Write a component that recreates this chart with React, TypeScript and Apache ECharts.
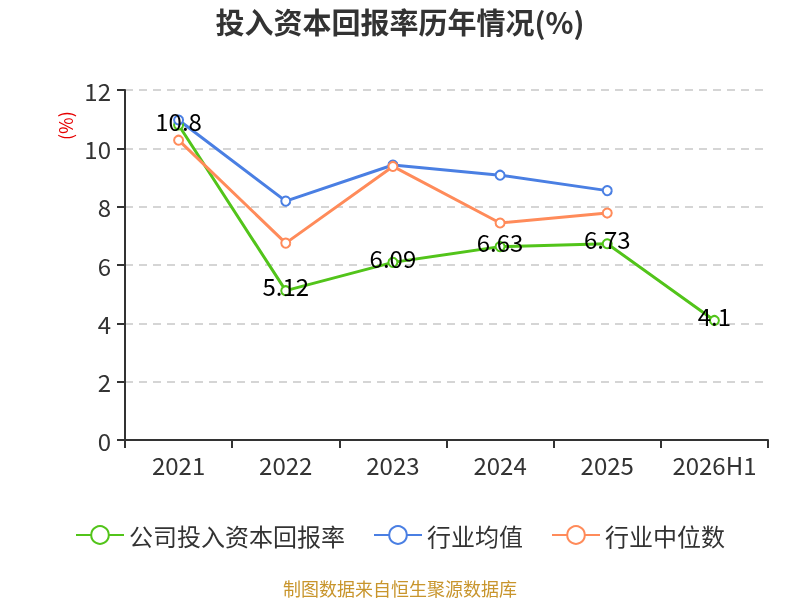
import React, { useEffect, useRef } from "react";
import * as echarts from "echarts";

const categories = ["2021", "2022", "2023", "2024", "2025", "2026H1"];
const companyValues = [10.8, 5.12, 6.09, 6.63, 6.73, 4.1];
const industryAvg = [10.97, 8.19, 9.43, 9.08, 8.55, null];
const industryMedian = [10.28, 6.75, 9.38, 7.44, 7.78, null];
const seriesNames = ["公司投入资本回报率", "行业均值", "行业中位数"];

export default function App() {
  const ref = useRef<HTMLDivElement>(null);
  useEffect(() => {
    if (!ref.current) return;
    const chart = echarts.init(ref.current, null, { renderer: "svg" });
    const font = "'Noto Sans CJK SC', 'Noto Sans', sans-serif";
    chart.setOption({
      animation: false,
      textStyle: { fontFamily: font },
      title: {
        text: "投入资本回报率历年情况(%)",
        left: "center",
        top: 1,
        textStyle: { fontSize: 29, fontWeight: "bold", color: "#333", fontFamily: font },
      },
      graphic: [
        {
          type: "text",
          x: 400,
          y: 588,
          style: {
            text: "制图数据来自恒生聚源数据库",
            fill: "#c8952c",
            fontSize: 18,
            fontFamily: font,
            align: "center",
            verticalAlign: "middle",
          },
        },
        {
          type: "text",
          x: 56,
          y: 140,
          rotation: Math.PI / 2,
          style: {
            text: "(%)",
            fill: "#e60000",
            fontSize: 18,
            fontFamily: font,
          },
        },
      ],
      legend: {
        bottom: 48,
        left: "center",
        itemWidth: 48,
        itemHeight: 22,
        itemGap: 28,
        textStyle: { fontSize: 24, color: "#333", fontFamily: font },
        data: seriesNames,
      },
      grid: { left: 125, right: 32, top: 90, bottom: 160 },
      xAxis: {
        type: "category",
        data: categories,
        axisLine: { lineStyle: { color: "#333", width: 2 } },
        axisTick: { show: true, length: 8, lineStyle: { color: "#333", width: 2 } },
        axisLabel: { fontSize: 24, color: "#333", margin: 12, interval: 0 },
      },
      yAxis: {
        type: "value",
        min: 0,
        max: 12,
        interval: 2,
        axisLine: { show: true, lineStyle: { color: "#333", width: 2 } },
        axisTick: { show: true, length: 8, lineStyle: { color: "#333", width: 2 } },
        axisLabel: { fontSize: 24, color: "#333", margin: 14 },
        splitLine: { lineStyle: { type: [8, 6], color: "#c8c8c8", width: 1.5 } },
      },
      series: [
        {
          name: seriesNames[0],
          type: "line",
          data: companyValues,
          color: "#52c41a",
          lineStyle: { width: 3 },
          symbol: "emptyCircle",
          symbolSize: 9,
          z: 3,
          label: {
            show: true,
            position: "inside",
            offset: [0, -5],
            color: "#000",
            fontSize: 24,
          },
        },
        {
          name: seriesNames[1],
          type: "line",
          data: industryAvg,
          color: "#4a7fe3",
          lineStyle: { width: 3 },
          symbol: "emptyCircle",
          symbolSize: 9,
        },
        {
          name: seriesNames[2],
          type: "line",
          data: industryMedian,
          color: "#ff8b5a",
          lineStyle: { width: 3 },
          symbol: "emptyCircle",
          symbolSize: 9,
        },
      ],
    });
    return () => chart.dispose();
  }, []);
  return (
    <div
      ref={ref}
      style={{ position: "fixed", left: 0, top: 0, width: 800, height: 600 }}
    />
  );
}
